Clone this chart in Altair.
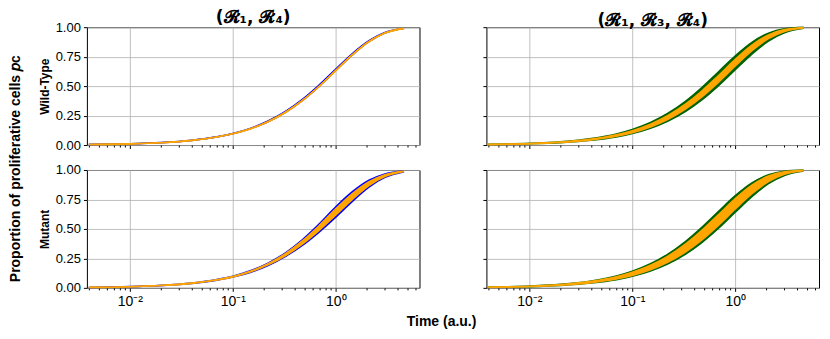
import altair as alt
import pandas as pd

# time points (a.u.)
T = [0.004, 0.01, 0.02, 0.04, 0.07, 0.1, 0.15, 0.22, 0.33, 0.47, 0.68, 1.0, 1.45, 2.1, 3.0, 4.6]

# (R1,R4) Wild-Type : blue band (outer) and orange band (inner)
LT_outer_lo = [0.0040, 0.0100, 0.0198, 0.0392, 0.0676, 0.0952, 0.1393, 0.1975, 0.2811, 0.3750, 0.4934, 0.6321, 0.7654, 0.8775, 0.9502, 0.9899]
LT_outer_hi = [0.0041, 0.0103, 0.0205, 0.0406, 0.0699, 0.0983, 0.1438, 0.2036, 0.2893, 0.3852, 0.5053, 0.6448, 0.7771, 0.8862, 0.9552, 0.9914]
LT_inner_lo = [0.0040, 0.0100, 0.0198, 0.0391, 0.0674, 0.0949, 0.1388, 0.1968, 0.2802, 0.3739, 0.4922, 0.6310, 0.7644, 0.8768, 0.9498, 0.9897]
LT_inner_hi = [0.0040, 0.0100, 0.0199, 0.0393, 0.0678, 0.0955, 0.1398, 0.1982, 0.2820, 0.3761, 0.4946, 0.6332, 0.7664, 0.8782, 0.9506, 0.9901]

# (R1,R4) Mutant
LB_outer_lo = [0.004, 0.009, 0.019, 0.037, 0.065, 0.091, 0.133, 0.190, 0.270, 0.358, 0.469, 0.600, 0.734, 0.855, 0.937, 0.986]
LB_outer_hi = [0.004, 0.011, 0.021, 0.041, 0.071, 0.099, 0.147, 0.210, 0.302, 0.406, 0.537, 0.688, 0.816, 0.913, 0.967, 0.994]
LB_inner_lo = [0.004, 0.010, 0.020, 0.038, 0.067, 0.093, 0.137, 0.195, 0.277, 0.368, 0.483, 0.618, 0.751, 0.868, 0.944, 0.988]
LB_inner_hi = [0.004, 0.010, 0.020, 0.040, 0.069, 0.097, 0.143, 0.205, 0.295, 0.396, 0.523, 0.670, 0.799, 0.900, 0.960, 0.992]

# (R1,R3,R4) Wild-Type : dark green band (outer) and orange band (inner)
RT_outer_lo = [0.0041, 0.0101, 0.0201, 0.0399, 0.0687, 0.0967, 0.1415, 0.2005, 0.2851, 0.3800, 0.4992, 0.6384, 0.7712, 0.8819, 0.9527, 0.9907]
RT_outer_hi = [0.0056, 0.0141, 0.0279, 0.0551, 0.0944, 0.1320, 0.1914, 0.2677, 0.3733, 0.4860, 0.6182, 0.7573, 0.8717, 0.9489, 0.9857, 0.9985]
RT_inner_lo = [0.0044, 0.0110, 0.0220, 0.0435, 0.0748, 0.1052, 0.1535, 0.2168, 0.3069, 0.4068, 0.5302, 0.6708, 0.8003, 0.9030, 0.9643, 0.9940]
RT_inner_hi = [0.0052, 0.0129, 0.0256, 0.0505, 0.0867, 0.1216, 0.1767, 0.2481, 0.3480, 0.4562, 0.5857, 0.7264, 0.8473, 0.9343, 0.9795, 0.9974]

# (R1,R3,R4) Mutant
RB_outer_lo = [0.0041, 0.0102, 0.0203, 0.0402, 0.0692, 0.0974, 0.1425, 0.2019, 0.2870, 0.3823, 0.5019, 0.6412, 0.7737, 0.8838, 0.9538, 0.9910]
RB_outer_hi = [0.0061, 0.0151, 0.0300, 0.0592, 0.1012, 0.1414, 0.2045, 0.2850, 0.3955, 0.5117, 0.6455, 0.7824, 0.8904, 0.9593, 0.9897, 0.9991]
RB_inner_lo = [0.0044, 0.0110, 0.0219, 0.0433, 0.0745, 0.1047, 0.1529, 0.2160, 0.3058, 0.4054, 0.5286, 0.6691, 0.7989, 0.9020, 0.9638, 0.9938]
RB_inner_hi = [0.0056, 0.0140, 0.0279, 0.0549, 0.0942, 0.1317, 0.1910, 0.2671, 0.3726, 0.4852, 0.6173, 0.7565, 0.8710, 0.9485, 0.9856, 0.9985]

X_TICKS = [0.004, 0.005, 0.006, 0.007, 0.008, 0.009,
           0.01, 0.02, 0.03, 0.04, 0.05, 0.06, 0.07, 0.08, 0.09,
           0.1, 0.2, 0.3, 0.4, 0.5, 0.6, 0.7, 0.8, 0.9,
           1, 2, 3, 4, 5, 6]
Y_TICKS = [0, 0.25, 0.5, 0.75, 1.0]
X_DOMAIN = [0.00383, 6.5]

COL_TITLES = ["(𝓡₁, 𝓡₄)", "(𝓡₁, 𝓡₃, 𝓡₄)"]
ROW_TITLES = ["Wild-Type", "Mutant"]
Y_TITLE = "Proportion of proliferative cells 𝑝ᴄ"
X_TITLE = "Time (a.u.)"

panels = {
    "LT": (LT_outer_lo, LT_outer_hi, LT_inner_lo, LT_inner_hi),
    "LB": (LB_outer_lo, LB_outer_hi, LB_inner_lo, LB_inner_hi),
    "RT": (RT_outer_lo, RT_outer_hi, RT_inner_lo, RT_inner_hi),
    "RB": (RB_outer_lo, RB_outer_hi, RB_inner_lo, RB_inner_hi),
}
rows = []
for key, (olo, ohi, ilo, ihi) in panels.items():
    for i, t in enumerate(T):
        rows.append({"panel": key, "t": t, "olo": olo[i], "ohi": ohi[i],
                     "ilo": ilo[i], "ihi": ihi[i]})
df = pd.DataFrame(rows)

FONT = "Liberation Sans"
MAJOR = "abs(log(datum.value)/LN10 - round(log(datum.value)/LN10)) < 0.001"
DECADE_LABELS = ("datum.value == 0.01 ? '10⁻²' : datum.value == 0.1 ? '10⁻¹' : "
                 "datum.value == 1 ? '10⁰' : ''")

xscale = alt.Scale(type="log", domain=X_DOMAIN, nice=False)
yscale = alt.Scale(domain=[0, 1], nice=False)


def x_axis(labels):
    return alt.Axis(values=X_TICKS, labels=labels, labelExpr=DECADE_LABELS,
                    title=None, domain=False,
                    tickSize={"condition": {"test": MAJOR, "value": 3.5}, "value": 2},
                    gridOpacity={"condition": {"test": MAJOR, "value": 1}, "value": 0},
                    labelFontSize=14, labelPadding=3)


def y_axis(labels, title):
    kw = dict(values=Y_TICKS, labels=labels, format=".2f", domain=False,
              tickSize=3.5, labelFontSize=13, labelPadding=3)
    if title:
        kw.update(title=title, titleFontSize=12, titleFontWeight="bold",
                  titlePadding=4)
    else:
        kw.update(title=None)
    return alt.Axis(**kw)


def panel(key, dark, col_title, row_title, show_x, show_y):
    base = alt.Chart(df).transform_filter(alt.datum.panel == key)
    xa = alt.X("t:Q", scale=xscale, axis=x_axis(show_x))
    yax = y_axis(show_y, row_title)

    def ye(f):
        return alt.Y(f, type="quantitative", scale=yscale, axis=yax)

    layers = [
        base.mark_area(color=dark, interpolate="monotone").encode(x=xa, y=ye("olo"), y2="ohi:Q"),
        base.mark_line(color=dark, strokeWidth=1.5, interpolate="monotone").encode(x=xa, y=ye("olo")),
        base.mark_line(color=dark, strokeWidth=1.5, interpolate="monotone").encode(x=xa, y=ye("ohi")),
        base.mark_area(color="#FFA500", interpolate="monotone").encode(x=xa, y=ye("ilo"), y2="ihi:Q"),
        base.mark_line(color="#FFA500", strokeWidth=1.6, interpolate="monotone").encode(x=xa, y=ye("ilo")),
        base.mark_line(color="#FFA500", strokeWidth=1.6, interpolate="monotone").encode(x=xa, y=ye("ihi")),
    ]
    props = dict(width=333, height=118)
    if col_title:
        props["title"] = alt.TitleParams(col_title, fontSize=17, fontWeight="bold",
                                         font="DejaVu Sans", anchor="middle", offset=-6)
    return alt.layer(*layers).properties(**props)


top = alt.hconcat(
    panel("LT", "#0000FF", COL_TITLES[0], ROW_TITLES[0], False, True),
    panel("RT", "#006400", COL_TITLES[1], None, False, False),
    spacing=61,
)
bottom = alt.hconcat(
    panel("LB", "#0000FF", None, ROW_TITLES[1], True, True),
    panel("RB", "#006400", None, None, True, False),
    spacing=61,
)
grid = alt.vconcat(top, bottom, spacing=10,
                   title=alt.TitleParams(X_TITLE, orient="bottom", anchor="middle",
                                         fontSize=14, fontWeight="bold", offset=6, dx=13))
chart = alt.hconcat(grid, title=alt.TitleParams(Y_TITLE, orient="left", anchor="middle",
                                                fontSize=14, fontWeight="bold", offset=15)
                    ).properties(padding={"left": 0, "top": 0, "right": 2, "bottom": 2}
                    ).configure(font=FONT).configure_view(
    stroke="black", strokeWidth=1
).configure_axis(
    gridColor="#b0b0b0", gridWidth=0.8, tickColor="black", labelColor="black",
    labelFont=FONT, titleFont=FONT, titleColor="black"
).configure_title(font=FONT, color="black")

chart.save("out.html", embed_options={"renderer": "svg", "actions": False})
